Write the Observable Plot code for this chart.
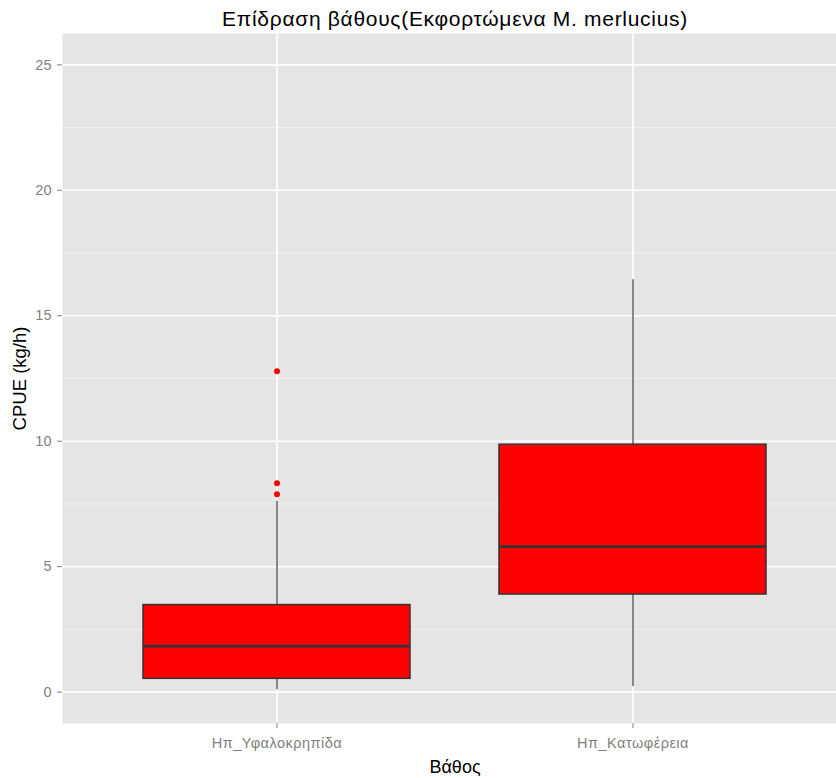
<!DOCTYPE html>
<html>
<head>
<meta charset="utf-8">
<script src="https://cdn.jsdelivr.net/npm/d3@7"></script>
<script src="https://cdn.jsdelivr.net/npm/@observablehq/plot@0.6"></script>
<style>
  html, body { margin: 0; padding: 0; background: #ffffff; }
  #chart svg { display: block; }
</style>
</head>
<body>
<div id="chart"></div>
<script>
// Depth zones (x categories)
const zones = ["Ηπ_Υφαλοκρηπίδα", "Ηπ_Κατωφέρεια"];

// Box-plot summaries of CPUE (kg/h) per depth zone
const whiskerLow  = [0.10, 0.22];
const q1          = [0.53, 3.89];
const median      = [1.83, 5.80];
const q3          = [3.47, 9.86];
const whiskerHigh = [7.61, 16.44];

// Outlying observations
const outlierZone  = ["Ηπ_Υφαλοκρηπίδα", "Ηπ_Υφαλοκρηπίδα", "Ηπ_Υφαλοκρηπίδα"];
const outlierValue = [12.79, 8.33, 7.89];

// Axis ticks
const majorTicks = [0, 5, 10, 15, 20, 25];
const minorTicks = [2.5, 7.5, 12.5, 17.5, 22.5];

const titleText = "Επίδραση βάθους(Εκφορτώμενα M. merlucius)";
const xTitle = "Βάθος";
const yTitle = "CPUE (kg/h)";

const boxes = zones.map((z, i) => ({
  zone: z, lo: whiskerLow[i], q1: q1[i], med: median[i], q3: q3[i], hi: whiskerHigh[i]
}));
const outliers = outlierZone.map((z, i) => ({zone: z, value: outlierValue[i]}));

const font = "'Liberation Sans', Arial, sans-serif";

const chart = Plot.plot({
  width: 836,
  height: 778,
  marginTop: 33,
  marginBottom: 55,
  marginLeft: 62,
  marginRight: -11,
  style: {fontFamily: font, background: "#ffffff"},
  x: {
    type: "band",
    domain: zones,
    paddingInner: 0.25,
    paddingOuter: 0.225,
    label: null
  },
  y: {domain: [-1.25, 26.25], label: null},
  marks: [
    Plot.frame({fill: "#E5E5E5", stroke: null}),
    // minor and major grid
    Plot.ruleY(minorTicks, {stroke: "#F2F2F2", strokeWidth: 1}),
    Plot.ruleY(majorTicks, {stroke: "#ffffff", strokeWidth: 1.6}),
    Plot.ruleX(zones, {x: d => d, stroke: "#ffffff", strokeWidth: 1.6}),
    // whiskers
    Plot.ruleX(boxes, {x: "zone", y1: "lo", y2: "q1", stroke: "#555555", strokeWidth: 1.4}),
    Plot.ruleX(boxes, {x: "zone", y1: "q3", y2: "hi", stroke: "#555555", strokeWidth: 1.4}),
    // boxes
    Plot.barY(boxes, {x: "zone", y1: "q1", y2: "q3", fill: "#FF0000", stroke: "#333333", strokeWidth: 1.5}),
    Plot.tickY(boxes, {x: "zone", y: "med", stroke: "#333333", strokeWidth: 2.8}),
    // outliers
    Plot.dot(outliers, {x: "zone", y: "value", r: 3, fill: "#FF0000", stroke: null}),
    // axes
    Plot.axisY(majorTicks, {
      tickSize: 5, tickPadding: 6, stroke: "#7F7F7F", fill: "#7F7F7F",
      fontSize: 14.5, letterSpacing: 0.5, label: null
    }),
    Plot.axisX({
      tickSize: 5, tickPadding: 9, stroke: "#7F7F7F", fill: "#7F7F7F",
      fontSize: 14.5, label: null,
      tickFormat: d => d
    }),
    // titles
    Plot.text([titleText], {
      frameAnchor: "top", lineAnchor: "middle", textAnchor: "middle", dy: -14.5,
      fontSize: 21, fill: "#000000", fontFamily: font
    }),
    Plot.text([xTitle], {
      frameAnchor: "bottom", lineAnchor: "middle", textAnchor: "middle", dy: 44,
      fontSize: 18, fill: "#000000", fontFamily: font
    }),
    Plot.text([yTitle], {
      frameAnchor: "left", lineAnchor: "middle", textAnchor: "middle", dx: -42, rotate: -90,
      fontSize: 18.5, fill: "#000000", fontFamily: font
    })
  ]
});

// slightly wider tracking on the category labels and title
chart.querySelectorAll("[aria-label='x-axis tick label'] text").forEach(t => t.setAttribute("letter-spacing", "0.5"));
chart.querySelectorAll("[aria-label='text'] text").forEach(t => {
  if (t.textContent === titleText) t.setAttribute("letter-spacing", "0.7");
});

document.getElementById("chart").appendChild(chart);
</script>
</body>
</html>
